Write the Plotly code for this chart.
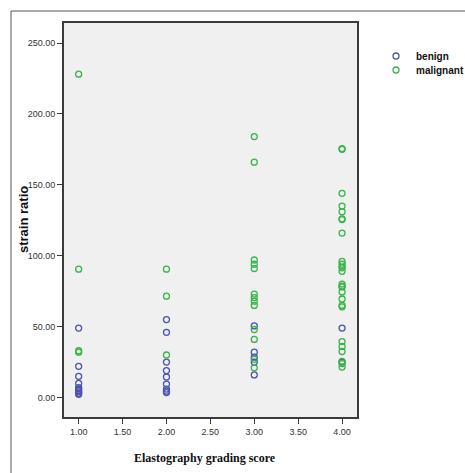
import plotly.graph_objects as go

# Elastography grading score (x) and strain ratio (y)
benign_x = [1]*10 + [2]*9 + [3]*5 + [4]*2
benign_y = [49, 22, 15, 10, 7, 6, 5, 4, 3, 2.3,
            55, 46, 25, 19, 14.5, 9.5, 6, 4.5, 3.5,
            50.5, 32, 28.5, 25, 16,
            49, 25]

malignant_x = [1]*4 + [2]*3 + [3]*13 + [4]*26
malignant_y = [228, 90.5, 32, 33,
               90.5, 71.5, 30,
               184, 166, 97, 94, 91, 73, 70.5, 68, 65, 48, 41, 27, 21,
               175, 175.5, 144, 135, 131, 126, 125.5, 116, 96, 94, 92, 91.5, 89,
               80, 78, 78.5, 74.5, 69.5, 65, 64, 39.5, 36, 32.5, 25.5, 24, 21.5]

x_ticks = [1.0, 1.5, 2.0, 2.5, 3.0, 3.5, 4.0]
y_ticks = [0, 50, 100, 150, 200, 250]

W, H = 465, 473
L, R, T, B = 64, 108, 23, 56
pw, ph = W - L - R, H - T - B

sans = "Liberation Sans, Arial"

def px_x(p):
    return (p - L) / pw

def px_y(p):
    return (H - B - p) / ph

fig = go.Figure()
fig.add_trace(go.Scatter(x=benign_x, y=benign_y, mode="markers", name="<b>benign</b>",
                         legend="legend",
                         marker=dict(symbol="circle-open", size=6, color="#4b55b0",
                                     line=dict(width=1.3))))
fig.add_trace(go.Scatter(x=malignant_x, y=malignant_y, mode="markers", name="<b>malignant</b>",
                         legend="legend2",
                         marker=dict(symbol="circle-open", size=6, color="#38b54a",
                                     line=dict(width=1.3))))

axis_common = dict(showgrid=False, zeroline=False, showline=True, mirror=True,
                   linecolor="#3a3a3a", linewidth=2, ticks="outside", ticklen=5,
                   tickwidth=1, tickcolor="#3a3a3a",
                   tickfont=dict(family=sans, size=9, color="#333"))

fig.update_xaxes(range=[0.833, 4.17], tickvals=x_ticks,
                 ticktext=[f"{v:.2f}" for v in x_ticks], **axis_common)
fig.update_yaxes(range=[-13.7, 264.1], tickvals=y_ticks,
                 ticktext=[f"{v:.2f}" for v in y_ticks], **axis_common)

leg_common = dict(xanchor="left", yanchor="middle", bgcolor="rgba(0,0,0,0)",
                  font=dict(family=sans, size=10, color="#111"), itemwidth=30)

fig.update_layout(
    width=W, height=H,
    margin=dict(l=L, r=R, t=T, b=B, pad=0, autoexpand=False),
    paper_bgcolor="white", plot_bgcolor="#f0f0f0",
    showlegend=True,
    legend=dict(x=px_x(376), y=px_y(56), **leg_common),
    legend2=dict(x=px_x(376), y=px_y(70), **leg_common),
    annotations=[
        dict(text="<b>strain ratio</b>", x=px_x(23), y=0.5, xref="paper", yref="paper",
             textangle=-90, showarrow=False, xanchor="center", yanchor="middle",
             font=dict(family=sans, size=13, color="#111")),
        dict(text="<b>Elastography grading score</b>", x=px_x(205), y=px_y(458),
             xref="paper", yref="paper", showarrow=False, xanchor="center", yanchor="middle",
             font=dict(family="Liberation Serif, Times New Roman", size=12, color="#111")),
    ],
    shapes=[
        dict(type="line", xref="paper", yref="paper", x0=px_x(11), x1=px_x(470),
             y0=px_y(11), y1=px_y(11), line=dict(color="#555", width=1)),
        dict(type="line", xref="paper", yref="paper", x0=px_x(11), x1=px_x(11),
             y0=px_y(11), y1=px_y(480), line=dict(color="#555", width=1)),
    ],
)

fig.write_html("out.html", config={"displayModeBar": False},
               post_script="document.body.style.margin='0';document.body.style.overflow='hidden';")
